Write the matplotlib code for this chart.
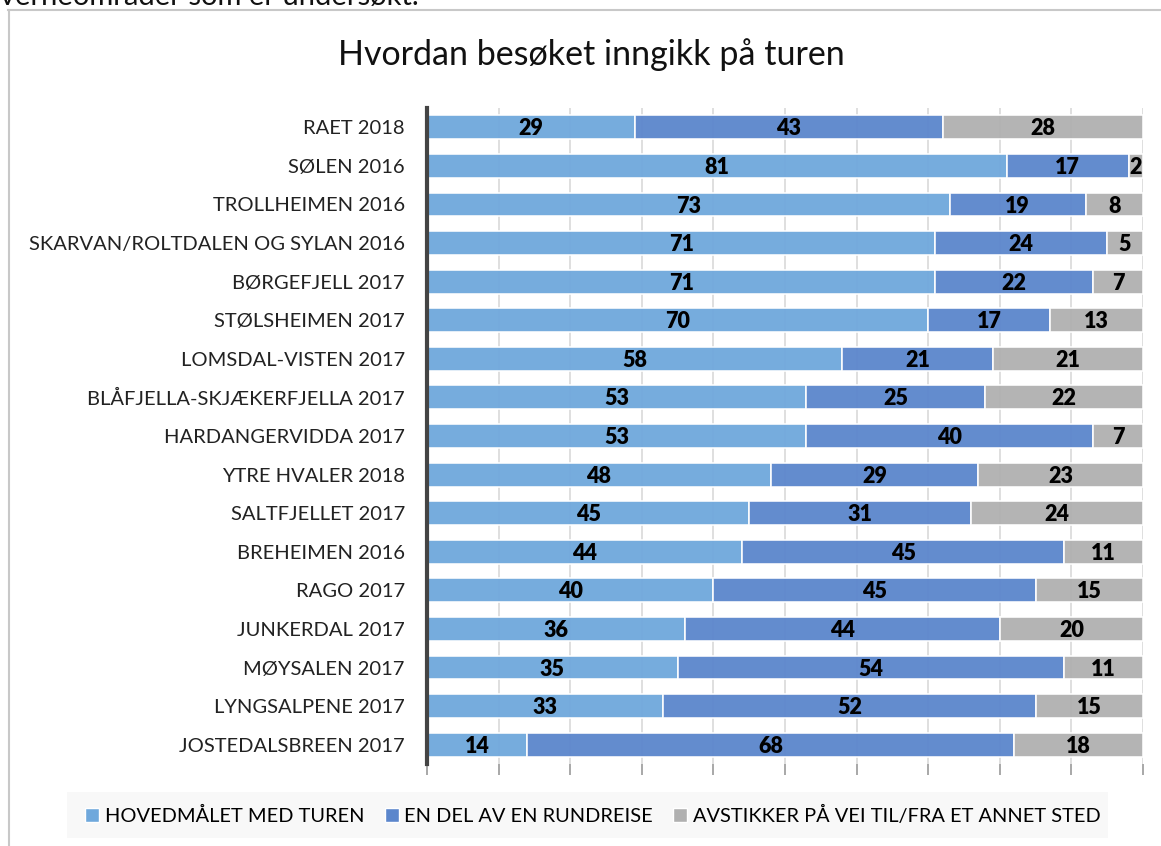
import matplotlib.pyplot as plt
import matplotlib.patches as mpatches
import numpy as np

plt.rcParams['font.family'] = ['Lato', 'DejaVu Sans']

# data, top row first
areas = ['RAET 2018', 'SØLEN 2016', 'TROLLHEIMEN 2016', 'SKARVAN/ROLTDALEN OG SYLAN 2016',
         'BØRGEFJELL 2017', 'STØLSHEIMEN 2017', 'LOMSDAL-VISTEN 2017',
         'BLÅFJELLA-SKJÆKERFJELLA 2017', 'HARDANGERVIDDA 2017', 'YTRE HVALER 2018',
         'SALTFJELLET 2017', 'BREHEIMEN 2016', 'RAGO 2017', 'JUNKERDAL 2017',
         'MØYSALEN 2017', 'LYNGSALPENE 2017', 'JOSTEDALSBREEN 2017']
hovedmaal = [29, 81, 73, 71, 71, 70, 58, 53, 53, 48, 45, 44, 40, 36, 35, 33, 14]
rundreise = [43, 17, 19, 24, 22, 17, 21, 25, 40, 29, 31, 45, 45, 44, 54, 52, 68]
avstikker = [28, 2, 8, 5, 7, 13, 21, 22, 7, 23, 24, 11, 15, 20, 11, 15, 18]
series_names = ['HOVEDMÅLET MED TUREN', 'EN DEL AV EN RUNDREISE',
                'AVSTIKKER PÅ VEI TIL/FRA ET ANNET STED']
colors = ['#6fa8dc', '#5b86cc', '#b0b0b0']

fig = plt.figure(figsize=(11.61, 8.46), dpi=100)
ax = fig.add_axes([427/1161, 1 - 764/846, (1143 - 427)/1161, (764 - 108)/846])

y = np.arange(len(areas))
left = np.zeros(len(areas))
for vals, col, name in zip([hovedmaal, rundreise, avstikker], colors, series_names):
    vals = np.array(vals)
    ax.barh(y, vals, left=left, height=0.62, color=col, alpha=0.95,
            edgecolor='white', linewidth=1.2, label=name, zorder=3)
    for yy, l, v in zip(y, left, vals):
        ax.text(l + v / 2, yy + 0.04, str(v), ha='center', va='center', fontsize=15.5,
                fontweight='heavy', color='black', zorder=4)
    left = left + vals

ax.set_xlim(0, 100)
ax.set_ylim(len(areas) - 0.5, -0.5)
ax.set_yticks(y)
ax.set_yticklabels(areas, fontsize=14.5, color='#222222')
ax.tick_params(axis='y', length=0, pad=16)
ax.set_xticks(np.arange(0, 101, 10))
ax.set_xticklabels([])
ax.tick_params(axis='x', length=8, color='#999999', width=1.2)
ax.grid(axis='x', color='#d9d9d9', linewidth=1.2, zorder=0)
for s in ['top', 'right', 'bottom']:
    ax.spines[s].set_visible(False)
ax.spines['left'].set_color('#444444')
ax.spines['left'].set_linewidth(3)
ax.spines['left'].set_zorder(5)

fig.text(591/1161, 1 - 55/846, 'Hvordan besøket inngikk på turen', ha='center',
         va='center', fontsize=24.5, color='#111111')

# partial text cut at the top of the screenshot
fig.text(0.0, 1 - 5/846, 'verneområder som er undersøkt.', ha='left',
         va='baseline', fontsize=21, color='#111111')

# chart border (top and left)
fig.add_artist(plt.Line2D([8/1161, 1.0], [1 - 10/846, 1 - 10/846], color='#c8c8c8', linewidth=1.5))
fig.add_artist(plt.Line2D([9/1161, 9/1161], [0, 1 - 10/846], color='#c8c8c8', linewidth=1.5))

# legend background
fig.add_artist(mpatches.Rectangle((67/1161, 1 - 838/846), (1108 - 67)/1161, 46/846,
                                  transform=fig.transFigure, facecolor='#f8f8f8',
                                  edgecolor='none', zorder=0))
handles = [mpatches.Patch(facecolor=c, edgecolor='white') for c in colors]
fig.legend(handles, series_names, loc='center', bbox_to_anchor=(593/1161, 1 - 815/846),
           ncol=3, frameon=False, fontsize=14.4, handlelength=0.7, handleheight=0.7,
           handletextpad=0.3, columnspacing=1.0)

fig.savefig('out.png', dpi=100)
